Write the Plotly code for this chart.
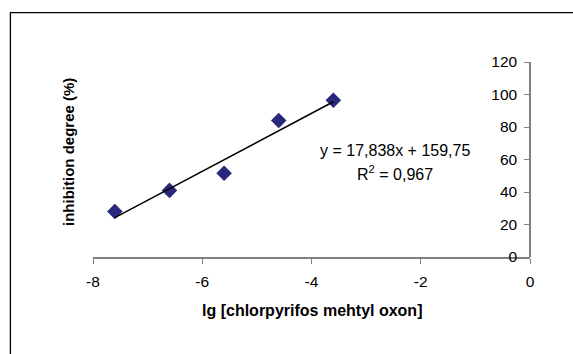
import plotly.graph_objects as go

# Data
lg_conc = [-7.6, -6.6, -5.6, -4.6, -3.6]
inhibition = [28, 41, 51.5, 84, 96.5]

# Trendline coefficients (as printed on the chart)
slope = 17.838
intercept = 159.75
r_squared = "0,967"

x_ticks = [-8, -6, -4, -2, 0]
x_ticktext = ["-8", "-6", "-4", "-2", "0"]
y_ticks = [0, 20, 40, 60, 80, 100, 120]

trend_x = [lg_conc[0], lg_conc[-1]]
trend_y = [slope * v + intercept for v in trend_x]

FONT = "Liberation Sans, Arial, sans-serif"
FS_TICK = 15.5

fig = go.Figure()
fig.add_trace(go.Scatter(
    x=lg_conc, y=inhibition, mode="markers",
    marker=dict(symbol="diamond", size=12, color="#28287c",
                line=dict(width=0)),
    showlegend=False, cliponaxis=False))
fig.add_trace(go.Scatter(
    x=trend_x, y=trend_y, mode="lines",
    line=dict(color="black", width=1.5),
    showlegend=False, cliponaxis=False))

fig.update_layout(
    width=573, height=354,
    margin=dict(l=93, r=43, t=62, b=97, pad=0),
    paper_bgcolor="white", plot_bgcolor="white",
    font=dict(family=FONT, size=FS_TICK, color="black"),
    xaxis=dict(range=[-8, 0], tickvals=x_ticks, ticktext=x_ticktext,
               ticks="outside", ticklen=5, tickcolor="#808080", tickwidth=1,
               ticklabelstandoff=5,
               showline=True, linecolor="#808080", linewidth=1.5,
               showgrid=False, zeroline=False, automargin=False,
               tickfont=dict(family=FONT, size=FS_TICK, color="black")),
    yaxis=dict(range=[0, 120], tickvals=y_ticks, anchor="free", position=1,
               side="left", ticks="outside", ticklen=5, tickcolor="#808080",
               tickwidth=1, ticklabelstandoff=4,
               showline=True, linecolor="#808080", linewidth=1.5,
               showgrid=False, zeroline=False, automargin=False,
               tickfont=dict(family=FONT, size=FS_TICK, color="black")),
    shapes=[dict(type="rect", xref="paper", yref="paper",
                 x0=-0.189, x1=2.0, y0=-2.0, y1=1.253,
                 line=dict(color="black", width=1.3), fillcolor="rgba(0,0,0,0)")],
    annotations=[
        dict(text="<b>lg [chlorpyrifos mehtyl oxon]</b>", xref="paper", yref="paper",
             x=0.501, y=-0.274, xanchor="center", yanchor="middle", showarrow=False,
             font=dict(family=FONT, size=16)),
        dict(text="<b>inhibition degree (%)</b>", xref="paper", yref="paper",
             x=-0.0565, y=0.54, xanchor="center", yanchor="middle", textangle=-90,
             showarrow=False, font=dict(family=FONT, size=15)),
        dict(text=f"y = {str(slope).replace('.', ',')}x + {str(intercept).replace('.', ',')}",
             xref="paper", yref="paper", x=0.692, y=0.548,
             xanchor="center", yanchor="middle", showarrow=False,
             font=dict(family=FONT, size=16)),
        dict(text=f"R<sup>2</sup> = {r_squared}", xref="paper", yref="paper",
             x=0.69, y=0.43, xanchor="center", yanchor="middle", showarrow=False,
             font=dict(family=FONT, size=16)),
    ],
)

fig.write_html("out.html")
